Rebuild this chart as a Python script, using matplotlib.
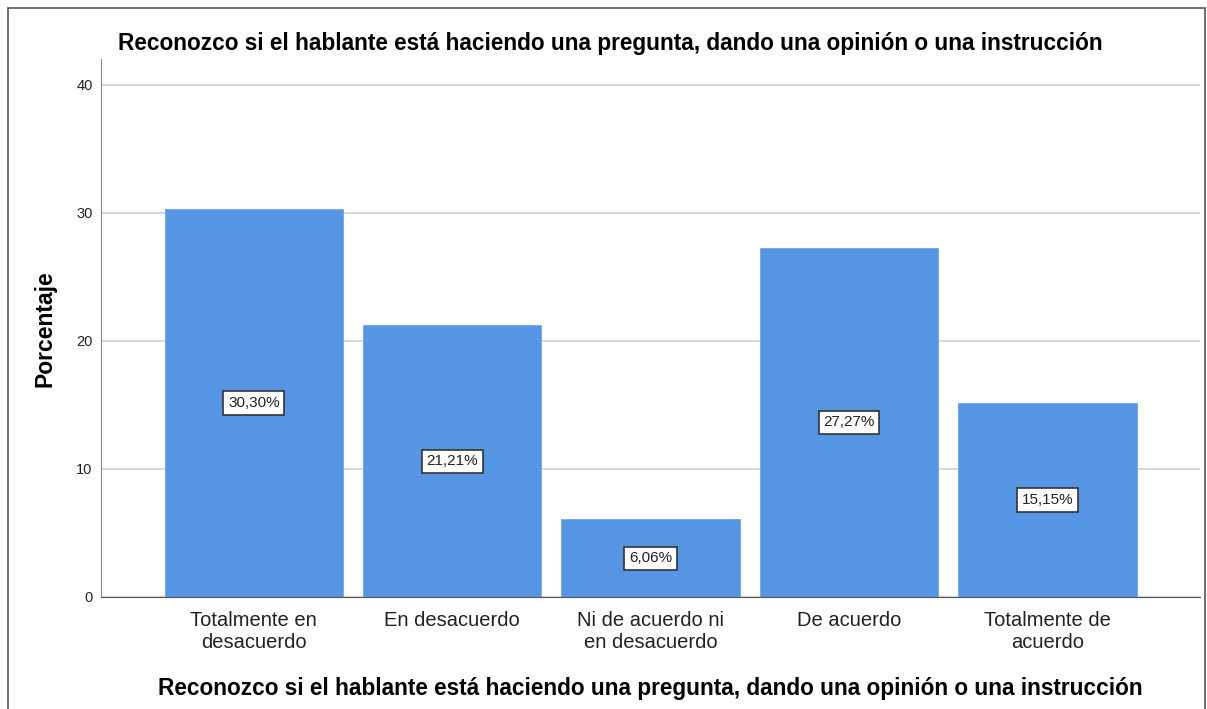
import numpy as np
import matplotlib.pyplot as plt
from matplotlib.patches import Rectangle

categorias = ["Totalmente en\ndesacuerdo", "En desacuerdo", "Ni de acuerdo ni\nen desacuerdo",
              "De acuerdo", "Totalmente de\nacuerdo"]
porcentajes = [30.30, 21.21, 6.06, 27.27, 15.15]
titulo = "Reconozco si el hablante está haciendo una pregunta, dando una opinión o una instrucción"

plt.rcParams["font.family"] = ["Liberation Sans", "DejaVu Sans"]

fig = plt.figure(figsize=(12.07, 7.09), dpi=100)
ax = fig.add_axes([0.0837, 0.158, 0.9105, 0.7588])

x = np.arange(len(categorias))
ax.bar(x, porcentajes, width=0.9, color="#5595E4", edgecolor="#6FA6EA", linewidth=0.6, zorder=2)

for xi, v in zip(x, porcentajes):
    ax.text(xi, v / 2, f"{v:.2f}".replace(".", ",") + "%", ha="center", va="center",
            fontsize=11, color="#222222", zorder=3,
            bbox=dict(boxstyle="square,pad=0.3", facecolor="white", edgecolor="#333333", linewidth=1.2))

ax.set_xlim(-0.77, 4.77)
ax.set_ylim(0, 42)
ax.set_yticks([0, 10, 20, 30, 40])
ax.yaxis.grid(True, color="#CFCFCF", linewidth=1.2, zorder=0)
ax.set_axisbelow(True)
ax.tick_params(axis="y", length=0, labelsize=10.5, pad=6, labelcolor="#222222")
ax.tick_params(axis="x", length=0, labelsize=14.5, pad=10, labelcolor="#222222")
ax.set_xticks(x)
ax.set_xticklabels(categorias, linespacing=1.2)
for s in ["top", "right"]:
    ax.spines[s].set_visible(False)
ax.spines["left"].set_color("#888888")
ax.spines["bottom"].set_color("#555555")

fig.text(0.0373, 0.536, "Porcentaje", rotation=90, ha="center", va="center",
         fontsize=16.5, fontweight="bold")
fig.text(0.5385, 0.0296, titulo, ha="center", va="center", fontsize=16.3, fontweight="bold")
fig.text(0.506, 0.939, titulo, ha="center", va="center", fontsize=16.3, fontweight="bold")

fig.patches.append(Rectangle((8, -5), 1197, 706, transform=None, fill=False,
                             edgecolor="#555555", linewidth=1.2))

fig.savefig("out.png", dpi=100)
